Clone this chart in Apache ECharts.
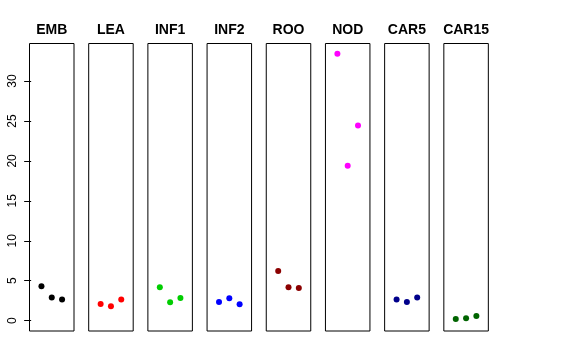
<!DOCTYPE html>
<html><head><meta charset="utf-8">
<script src="https://cdn.jsdelivr.net/npm/echarts@6/dist/echarts.min.js"></script>
<style>html,body{margin:0;padding:0;background:#fff}#c{width:576px;height:360px}</style>
</head><body><div id="c"></div>
<script>
const panels = ["EMB","LEA","INF1","INF2","ROO","NOD","CAR5","CAR15"];
const colors = ["#000000","#FF0000","#00CD00","#0000FF","#8B0000","#FF00FF","#00008B","#006400"];
const emb = [4.30, 2.88, 2.63];
const lea = [2.08, 1.79, 2.63];
const inf1 = [4.17, 2.29, 2.84];
const inf2 = [2.33, 2.80, 2.04];
const roo = [6.22, 4.17, 4.09];
const nod = [33.42, 19.38, 24.44];
const car5 = [2.63, 2.33, 2.88];
const car15 = [0.20, 0.29, 0.58];
const yTicks = [0, 5, 10, 15, 20, 25, 30];
const values = [emb, lea, inf1, inf2, roo, nod, car5, car15];

(function () {
const grids = [], xAxes = [], yAxes = [], series = [], titles = [];
const left0 = 29.5, step = 59.19, pw = 44.5, ptop = 43.5, ph = 287.5;
panels.forEach((name, i) => {
  const L = left0 + step * i;
  grids.push({left: L, top: ptop, width: pw, height: ph, show: true, borderColor: '#000', borderWidth: 1, backgroundColor: 'transparent', containLabel: false});
  xAxes.push({type: 'value', gridIndex: i, min: -0.16, max: 4.16, show: false});
  yAxes.push({
    type: 'value', gridIndex: i, min: -1.3, max: 34.7,
    show: i === 0,
    splitLine: {show: false},
    axisLine: {show: false},
    axisTick: {show: true, length: 7, lineStyle: {color: '#000'}, customValues: yTicks},
    axisLabel: {show: true, rotate: 90, margin: 11, fontSize: 12, color: '#000', fontFamily: 'Liberation Sans, Arial, sans-serif', customValues: yTicks}
  });
  series.push({
    type: 'scatter', xAxisIndex: i, yAxisIndex: i,
    data: values[i].map((v, k) => [k + 1, v]),
    symbol: 'circle', symbolSize: 6,
    itemStyle: {color: colors[i], opacity: 1}, silent: true
  });
  titles.push({
    text: name, left: L + pw / 2, top: 23, textAlign: 'center', padding: 0,
    textStyle: {fontSize: 14, fontWeight: 'bold', color: '#000', fontFamily: 'Liberation Sans, Arial, sans-serif'}
  });
});

const chart = echarts.init(document.getElementById('c'), null, {renderer: 'canvas'});
chart.setOption({
  animation: false,
  backgroundColor: '#fff',
  title: titles,
  grid: grids,
  xAxis: xAxes,
  yAxis: yAxes,
  series: series
});
})();
</script>
</body></html>
